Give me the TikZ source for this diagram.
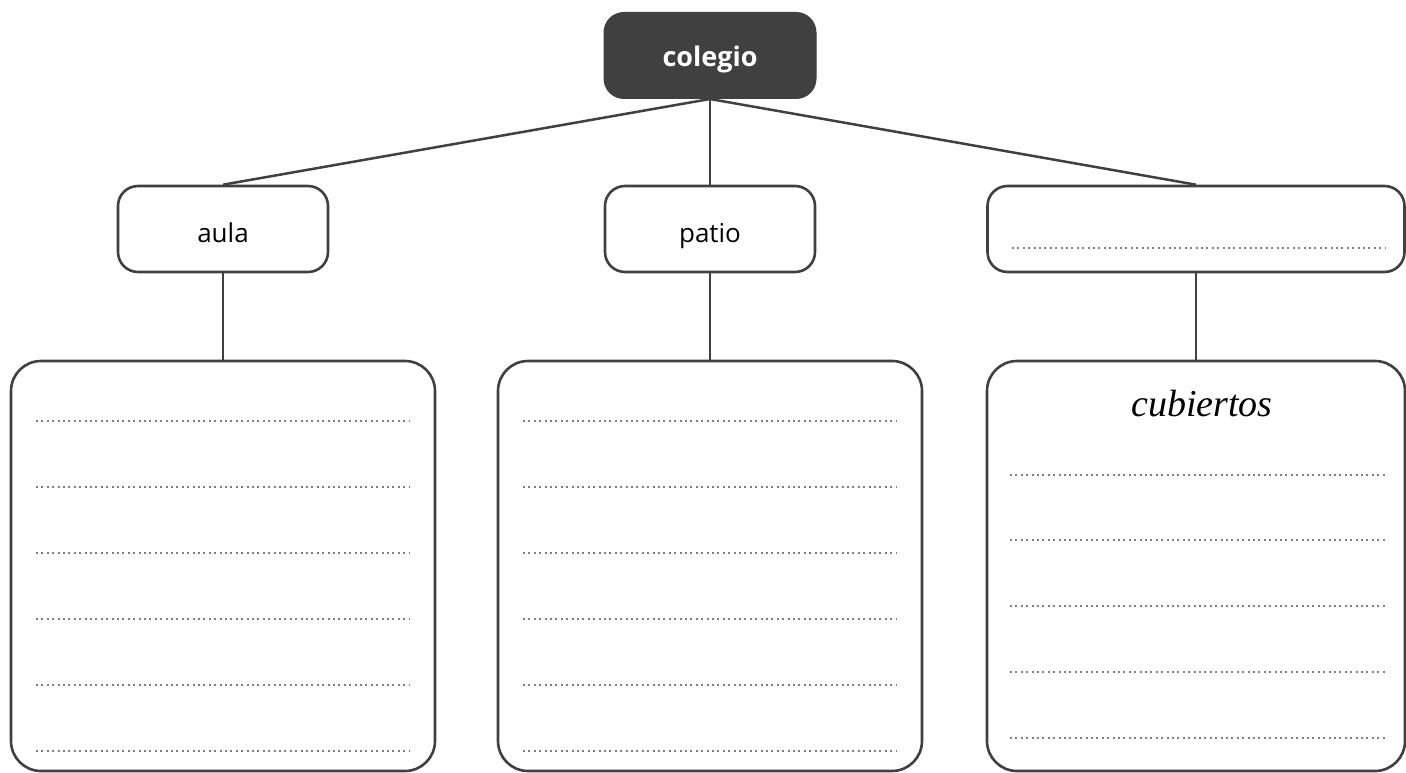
\documentclass[tikz,border=0pt]{standalone}
\usepackage{fontspec}
\setmainfont{Open Sans}
\newfontfamily\serifit{Liberation Serif}
\begin{document}
\begin{tikzpicture}[x=1pt,y=-1pt,
  frame/.style={draw=black!75,line width=2.6pt,rounded corners=20pt,fill=white},
  bigframe/.style={draw=black!75,line width=2.6pt,rounded corners=30pt,fill=white},
  link/.style={draw=black!75,line width=2.5pt},
  dotline/.style={draw=black!50,line width=2pt,dash pattern=on 2pt off 3.4pt},
  lbl/.style={font=\fontsize{26}{30}\selectfont,text=black,text height=26pt,text depth=0pt}]
\useasboundingbox (0,0) rectangle (1406,773);
% top node
\node[draw=black!75,fill=black!75,line width=1pt,rounded corners=20pt,minimum width=212pt,minimum height=86pt,inner sep=0pt,
  text=white,font=\fontsize{27}{30}\selectfont\bfseries,text height=23pt,text depth=0pt] (col) at (710,55.5) {colegio};
% mid nodes
\node[frame,minimum width=210pt,minimum height=86pt,inner sep=0pt,lbl] (aula) at (223,229) {aula};
\node[frame,minimum width=210pt,minimum height=86pt,inner sep=0pt,lbl] (patio) at (710,229) {patio};
\node[frame,minimum width=417pt,minimum height=86pt,inner sep=0pt] (third) at (1196,229) {};
\draw[dotline] (1012,248) -- (1386,248);
% big boxes
\node[bigframe,minimum width=424pt,minimum height=410pt,inner sep=0pt] (b1) at (223,566) {};
\node[bigframe,minimum width=424pt,minimum height=410pt,inner sep=0pt] (b2) at (710,566) {};
\node[bigframe,minimum width=418pt,minimum height=410pt,inner sep=0pt] (b3) at (1196,566) {};
% connectors
\draw[link] (col.south) -- (aula.north);
\draw[link] (col.south) -- (patio.north);
\draw[link] (col.south) -- (third.north);
\draw[link] (aula.south) -- (b1.north);
\draw[link] (patio.south) -- (b2.north);
\draw[link] (third.south) -- (b3.north);
% dotted lines
\foreach \yy in {421,487,553,619,685,751} {
  \draw[dotline] (36,\yy) -- (410,\yy);
  \draw[dotline] (523,\yy) -- (897,\yy);
}
\foreach \yy in {475,540,606,672,738} {
  \draw[dotline] (1010,\yy) -- (1385,\yy);
}
\node[font=\serifit\itshape\fontsize{38}{44}\selectfont] (cub) at (1202,404) {cubiertos};
\end{tikzpicture}
\end{document}
